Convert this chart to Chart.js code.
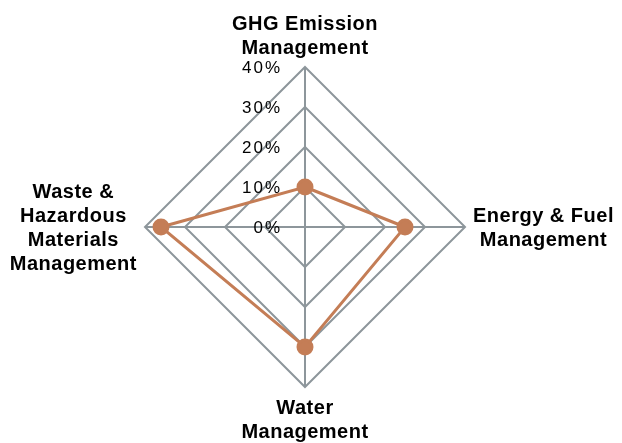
<!DOCTYPE html>
<html>
<head>
<meta charset="utf-8">
<script src="https://cdn.jsdelivr.net/npm/chart.js@4/dist/chart.umd.min.js"></script>
<style>
  html, body { margin: 0; padding: 0; background: #fff; }
  #wrap { width: 622px; height: 443px; }
</style>
</head>
<body>
<div id="wrap"><canvas id="radar"></canvas></div>
<script>
const categories = [
  ['GHG Emission', 'Management'],
  ['Energy & Fuel', 'Management'],
  ['Water', 'Management'],
  ['Waste &', 'Hazardous', 'Materials', 'Management']
]
const scores = [10, 25, 30, 36]
const tickValues = [0, 10, 20, 30, 40]

const gridColor = '#8d969b'
const lineColor = '#c47d56'
const fontFamily = "'Liberation Sans', Arial, sans-serif"
const labelSize = 20
const labelLine = 24

// slightly wider glyph spacing like the original rendering
const spacing = {
  id: 'spacing',
  beforeLayout(chart) { chart.ctx.letterSpacing = '0.5px' },
  beforeDraw(chart) { chart.ctx.letterSpacing = '0.5px' }
}

// tick labels sit left of the vertical axis, centred on each ring
const tickLabels = {
  id: 'tickLabels',
  afterDatasetsDraw(chart) {
    const scale = chart.scales.r
    const ctx = chart.ctx
    ctx.save()
    ctx.letterSpacing = '2px'
    ctx.font = '17px ' + fontFamily
    ctx.fillStyle = '#000'
    ctx.textAlign = 'right'
    ctx.textBaseline = 'middle'
    tickValues.forEach(v => {
      const y = scale.yCenter - scale.getDistanceFromCenterForValue(v)
      ctx.fillText(v + '%', scale.xCenter - 23, y + 1)
    })
    ctx.restore()
  }
}

// the library lays out the point labels; redraw them with centred lines
const centredLabels = {
  id: 'centredLabels',
  afterDraw(chart) {
    const scale = chart.scales.r
    const ctx = chart.ctx
    ctx.save()
    ctx.letterSpacing = '0.5px'
    ctx.font = 'bold ' + labelSize + 'px ' + fontFamily
    ctx.fillStyle = '#000'
    ctx.textAlign = 'center'
    ctx.textBaseline = 'middle'
    categories.forEach((lines, i) => {
      const box = scale.getPointLabelPosition(i)
      const cx = (box.left + box.right) / 2
      lines.forEach((t, j) => ctx.fillText(t, cx, box.top + labelLine * (j + 0.5) + 1))
    })
    ctx.restore()
  }
}

new Chart(document.getElementById('radar'), {
  type: 'radar',
  data: {
    labels: categories,
    datasets: [{
      data: scores,
      borderColor: lineColor,
      backgroundColor: lineColor,
      pointBackgroundColor: lineColor,
      pointBorderColor: lineColor,
      borderWidth: 3,
      pointRadius: 7,
      fill: false,
      tension: 0
    }]
  },
  options: {
    responsive: true,
    maintainAspectRatio: false,
    animation: false,
    layout: { padding: { top: 11, bottom: -6, left: 3, right: -18 } },
    plugins: {
      legend: { display: false },
      tooltip: { enabled: false }
    },
    scales: {
      r: {
        min: 0,
        max: 40,
        ticks: { stepSize: 10, display: false },
        grid: { color: gridColor, lineWidth: 2 },
        angleLines: { color: gridColor, lineWidth: 2 },
        pointLabels: {
          color: 'rgba(0,0,0,0)',
          padding: 8,
          font: { family: fontFamily, size: labelSize, weight: 'bold', lineHeight: labelLine / labelSize }
        }
      }
    }
  },
  plugins: [spacing, tickLabels, centredLabels]
})
</script>
</body>
</html>
